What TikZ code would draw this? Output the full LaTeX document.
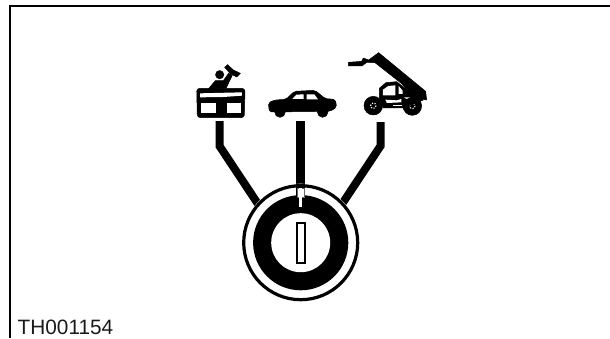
\documentclass[tikz,border=0pt]{standalone}
\usepackage{fontspec}
\setmainfont{Liberation Sans}
\tikzset{
  stem/.style={line width=#1,line cap=butt,line join=miter},
  ink/.style={fill=black,draw=black,line width=0.5pt,line join=round}
}
\begin{document}
\begin{tikzpicture}[x=1pt,y=-1pt]
\useasboundingbox (0,0) rectangle (610,338);
% frame
\draw[line width=2.4pt] (610,6) -- (10,6) -- (10,338);
\node[anchor=base west,inner sep=0pt,font=\fontsize{20.8}{24}\selectfont,text=black!90] (code) at (17.5,334.5) {TH001154};
% lock
\coordinate (lock) at (300.7,242.7);
\coordinate (stemL) at (219.5,121);
\coordinate (kneeL) at (219.5,146);
\coordinate (endL) at (258,204);
\coordinate (stemC) at (300.5,121);
\coordinate (endC) at (300.5,186);
\coordinate (stemR) at (380.5,122);
\coordinate (kneeR) at (380.5,146);
\coordinate (endR) at (342,204);
\draw[stem=8pt] (stemL) -- (kneeL) -- (endL);
\draw[stem=9.2pt] (stemC) -- (endC);
\draw[stem=8pt] (stemR) -- (kneeR) -- (endR);
\fill[white] (lock) circle (59);
\draw[line width=3.2pt] (lock) circle (57);
\fill[black] (lock) circle (47.6);
\fill[white] (lock) circle (29.5);
\draw[line width=2pt,fill=white] (296.5,222.5) rectangle (304.7,262.5);
\fill[black] (296,184) rectangle (305,196);
\draw[line width=0.8pt,fill=white,draw=black!60] (297,188) rectangle (304.5,197);
\fill[white] (298.6,188) rectangle (302,206.5);
% icons, in 1/3 px units
\begin{scope}[shift={(180,20)},x=0.3333pt,y=-0.3333pt]
% basket
\fill[ink,rounded corners=3pt] (50,205) -- (195,205) -- (193,293) -- (52,293) -- cycle;
\fill[white] (60,220) -- (186,217) -- (186,227) -- (130,231) -- (60,232) -- cycle;
\fill[white] (63,248) -- (107,248) -- (107,278) -- (63,278) -- cycle;
\fill[white] (142,248) -- (182,248) -- (182,279) -- (142,279) -- cycle;
% person
\fill[ink] (119,164) circle (12.5);
\fill[ink] (85,207) -- (106,182) -- (130,182) -- (146,160) -- (157,166) -- (138,205) -- cycle;
\fill[ink] (134,142) -- (143,134) -- (160,150) -- (181,160) -- (170,171) -- (150,160) -- cycle;
% car
\fill[ink,rounded corners=2pt] (265,248) -- (285,240) -- (318,238) -- (343,214) -- (405,211) -- (436,236) -- (466,238) -- (470,262) -- (450,274) -- (268,276) -- cycle;
\fill[ink] (300,276) circle (16);
\fill[ink] (428,276) circle (16);
\fill[white] (337,237) -- (349,224) -- (371,223) -- (371,237) -- cycle;
\fill[white] (380,223) -- (403,223) -- (414,238) -- (380,238) -- cycle;
% telehandler
\fill[ink] (505,127) -- (545,124) -- (550,114) -- (566,120) -- (596,98) -- (737,214) -- (740,240) -- (700,232) -- (664,190) -- (585,128) -- (560,127) -- (546,138) -- (505,138) -- cycle;
\fill[ink] (580,257) circle (28);
\fill[ink] (697,258) circle (28);
\draw[white,line width=1.1pt,dash pattern=on 1.2pt off 1.5pt] (580,257) circle (8);
\draw[white,line width=1.1pt,dash pattern=on 1.2pt off 1.5pt] (697,258) circle (8);
\fill[ink] (598,232) -- (598,205) -- (618,188) -- (650,185) -- (675,205) -- (730,240) -- (670,264) -- (610,264) -- cycle;
\fill[white] (609,226) -- (609,209) -- (625,198) -- (646,196) -- (646,226) -- cycle;
\fill[white] (656,198) -- (668,212) -- (668,222) -- (656,222) -- cycle;
\fill[white] (616,239) -- (650,241) -- (664,237) -- (664,247) -- (621,249) -- cycle;
\fill[white] (640,255) -- (665,255) -- (665,258) -- (640,258) -- cycle;
\fill[white] (672,232) -- (690,232) -- (680,237) -- cycle;
\end{scope}
\end{tikzpicture}
\end{document}
